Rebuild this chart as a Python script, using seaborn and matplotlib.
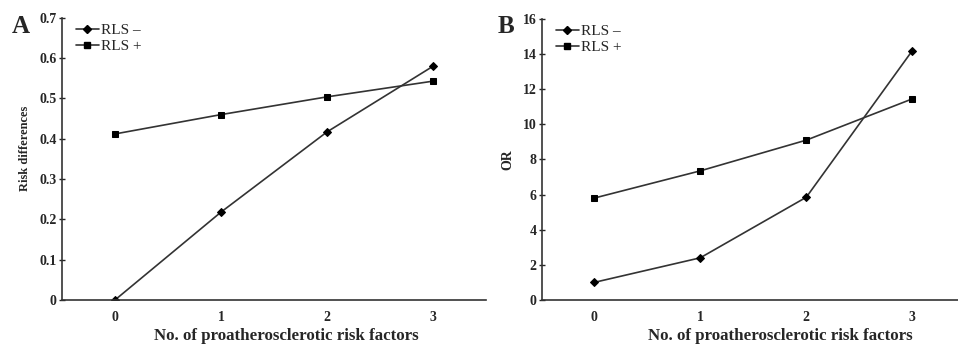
import matplotlib
matplotlib.use("Agg")
import matplotlib.pyplot as plt
import seaborn as sns
import pandas as pd
from matplotlib.lines import Line2D

factors = [0, 1, 2, 3]
series_names = ["RLS \u2013", "RLS +"]
rd_minus = [0.0, 0.218, 0.417, 0.580]
rd_plus = [0.412, 0.460, 0.504, 0.543]
or_minus = [1.0, 2.4, 5.85, 14.2]
or_plus = [5.8, 7.35, 9.1, 11.45]
xlabel = "No. of proatherosclerotic risk factors"

sns.set_theme(style="ticks")
plt.rcParams['font.family'] = ['Liberation Serif', 'DejaVu Serif']

def long_df(minus, plus):
    return pd.DataFrame({
        "x": factors * 2,
        "y": list(minus) + list(plus),
        "s": [series_names[0]] * 4 + [series_names[1]] * 4,
    })

fig = plt.figure(figsize=(9.58, 3.44), dpi=100)
axA = fig.add_axes([0.0647, 0.128, 0.4426, 0.820])
axB = fig.add_axes([0.566, 0.128, 0.434, 0.817])

line_color = "#333333"
pal = {series_names[0]: line_color, series_names[1]: line_color}
mk = {series_names[0]: "D", series_names[1]: "s"}

def draw(ax, df, ylim, yticks, ylab, ytickfmt, xlab_x, ylab_y, ylab_size):
    sns.lineplot(data=df, x="x", y="y", hue="s", style="s", palette=pal,
                 markers=mk, dashes=False, ax=ax, linewidth=1.2,
                 markersize=5, markeredgecolor="black", legend=False)
    for l in ax.lines:
        l.set_markerfacecolor("black")
    ax.lines[0].set_markersize(4)
    ax.set_xlim(-0.5, 3.5)
    ax.set_ylim(*ylim)
    ax.set_xticks(factors)
    ax.set_xticklabels([str(f) for f in factors])
    ax.set_yticks(yticks)
    ax.set_yticklabels([ytickfmt(v) for v in yticks])
    for s in ["top", "right"]:
        ax.spines[s].set_visible(False)
    for s in ["left", "bottom"]:
        ax.spines[s].set_linewidth(1.2)
        ax.spines[s].set_color("#333333")
    ax.tick_params(axis="x", length=0, pad=8, labelsize=10)
    ax.tick_params(axis="y", length=4, direction="inout", width=1, pad=2, labelsize=10)
    for t in ax.get_xticklabels() + ax.get_yticklabels():
        t.set_fontweight("bold")
    ax.set_xlabel(xlabel, fontsize=12.2, fontweight="bold", labelpad=2)
    ax.set_ylabel(ylab, fontsize=ylab_size, fontweight="bold", labelpad=6)
    ax.xaxis.set_label_coords(xlab_x, -0.1)
    ax.xaxis.label.set_va("top")
    ax.yaxis.label.set_y(ylab_y)
    handles = [
        Line2D([], [], color=line_color, lw=1.2, marker="D", markersize=4,
               markerfacecolor="black", markeredgecolor="black"),
        Line2D([], [], color=line_color, lw=1.2, marker="s", markersize=5,
               markerfacecolor="black", markeredgecolor="black"),
    ]
    ax.legend(handles, series_names, loc="upper left", bbox_to_anchor=(0.0, 1.03),
              frameon=False, handlelength=1.5, handletextpad=0.15, labelspacing=0.15,
              prop={"family": "Liberation Serif", "size": 11})

draw(axA, long_df(rd_minus, rd_plus), (0, 0.7), [0, 0.1, 0.2, 0.3, 0.4, 0.5, 0.6, 0.7],
     "Risk differences", lambda v: "0" if v == 0 else f"{v:.1f}", 0.528, 0.539, 9.0)
draw(axB, long_df(or_minus, or_plus), (0, 16), list(range(0, 17, 2)),
     "OR", lambda v: f"{v:d}", 0.572, 0.50, 10.0)
axB.set_xlim(-0.49, 3.43)

fig.text(0.012, 0.905, "A", fontsize=18, fontweight="bold")
fig.text(0.519, 0.905, "B", fontsize=18, fontweight="bold")

fig.savefig("out.png", dpi=100)
